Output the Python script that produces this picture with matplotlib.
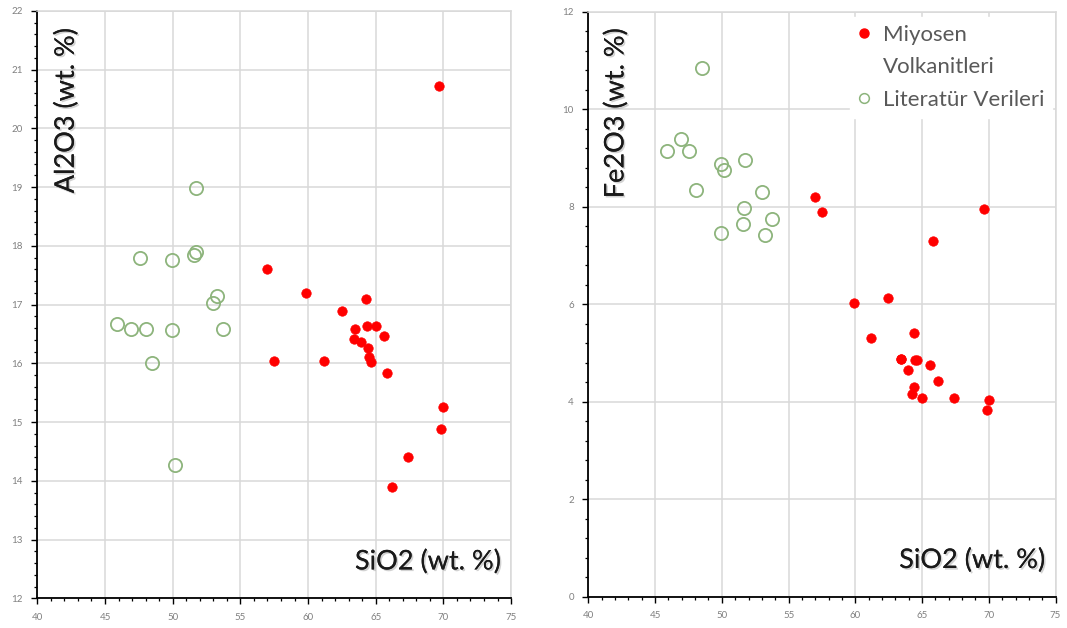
import matplotlib.pyplot as plt
import matplotlib.patheffects as pe
from matplotlib.ticker import MultipleLocator
from matplotlib.lines import Line2D

# Miyosen volkanitleri (bu çalışma)
sio2_miyosen = [57.00, 57.47, 59.88, 61.18, 62.48, 63.39, 63.44, 63.93, 64.28, 64.37, 64.40,
                64.47, 64.64, 65.01, 65.58, 65.80, 66.17, 67.37, 69.65, 69.85, 70.00]
al2o3_miyosen = [17.60, 16.04, 17.19, 16.04, 16.89, 16.42, 16.58, 16.36, 17.10, 16.64, 16.27,
                 16.11, 16.03, 16.64, 16.47, 15.84, 13.89, 14.41, 20.73, 14.88, 15.26]
fe2o3_miyosen = [8.19, 7.89, 6.03, 5.31, 6.13, 4.88, 4.88, 4.66, 4.16, 5.40, 4.30,
                 4.86, 4.85, 4.07, 4.75, 7.30, 4.43, 4.07, 7.96, 3.84, 4.04]

# Literatür verileri
sio2_lit = [45.88, 46.94, 47.55, 48.04, 48.48, 49.92, 49.93, 50.15, 51.59, 51.69, 51.72,
            53.01, 53.24, 53.73]
al2o3_lit = [16.67, 16.59, 17.79, 16.59, 16.01, 17.76, 16.56, 14.27, 17.85, 18.98, 17.89,
             17.03, 17.15, 16.59]
fe2o3_lit = [9.15, 9.38, 9.15, 8.34, 10.85, 8.88, 7.47, 8.75, 7.65, 7.98, 8.95,
             8.31, 7.41, 7.74]

RED = '#ff0000'
GREEN = '#8db47c'
GRID = '#d9d9d9'
TICK = '#808080'
FONT = 'Lato'
LABEL_SIZE = 19.5

fig = plt.figure(figsize=(10.67, 6.28), dpi=100)
ax1 = fig.add_axes([0.035, 0.0473, 0.444, 0.9352])
ax2 = fig.add_axes([0.5514, 0.0498, 0.4379, 0.9316])

shadow = [pe.withSimplePatchShadow(offset=(1.2, -1.2), shadow_rgbFace='#808080', alpha=0.35),
          pe.Normal()]


def style_axes(ax, ymin, ymax, ymajor, yminor):
    ax.set_xlim(40, 75)
    ax.set_ylim(ymin, ymax)
    ax.xaxis.set_major_locator(MultipleLocator(5))
    ax.xaxis.set_minor_locator(MultipleLocator(1))
    ax.yaxis.set_major_locator(MultipleLocator(ymajor))
    ax.yaxis.set_minor_locator(MultipleLocator(yminor))
    ax.grid(True, which='major', color=GRID, linewidth=1.1)
    ax.set_axisbelow(True)
    for side in ['top', 'right']:
        ax.spines[side].set_color(GRID)
        ax.spines[side].set_linewidth(1.1)
    for side in ['left', 'bottom']:
        ax.spines[side].set_color('black')
        ax.spines[side].set_linewidth(1.3)
    ax.tick_params(which='major', direction='out', length=4.5, width=1.0,
                   color='black', labelcolor=TICK, labelsize=7, pad=6)
    ax.tick_params(which='minor', direction='out', length=2.2, width=0.9, color='black')
    for lab in ax.get_xticklabels() + ax.get_yticklabels():
        lab.set_fontfamily(FONT)


def draw(ax, y_m, y_l):
    ax.plot(sio2_lit, y_l, linestyle='none', marker='o', markersize=9.5,
            markerfacecolor='none', markeredgecolor=GREEN, markeredgewidth=1.3, zorder=3)
    ax.plot(sio2_miyosen, y_m, linestyle='none', marker='o', markersize=6.8,
            markerfacecolor=RED, markeredgecolor=RED, markeredgewidth=0.5, zorder=4)


def axis_title(ax, x, y, text, rotation=0):
    ax.text(x, y, text, transform=ax.transAxes, rotation=rotation,
            ha='center', va='center', fontsize=LABEL_SIZE, family=FONT,
            color='#1a1a1a', path_effects=shadow)


style_axes(ax1, 12, 22, 1, 0.2)
draw(ax1, al2o3_miyosen, al2o3_lit)
axis_title(ax1, 0.061, 0.831, 'Al2O3 (wt. %)', rotation=90)
axis_title(ax1, 0.825, 0.062, 'SiO2 (wt. %)')

style_axes(ax2, 0, 12, 2, 0.4)
draw(ax2, fe2o3_miyosen, fe2o3_lit)
axis_title(ax2, 0.059, 0.827, 'Fe2O3 (wt. %)', rotation=90)
axis_title(ax2, 0.822, 0.062, 'SiO2 (wt. %)')

handles = [
    Line2D([], [], linestyle='none', marker='o', markersize=6.5, color=RED),
    Line2D([], [], linestyle='none', marker=None),
    Line2D([], [], linestyle='none', marker='o', markersize=7,
           markerfacecolor='none', markeredgecolor=GREEN, markeredgewidth=1.1),
]
labels = ['Miyosen', 'Volkanitleri', 'Literatür Verileri']
leg = ax2.legend(handles, labels, loc='upper right', bbox_to_anchor=(0.998, 0.995),
                 frameon=True, fancybox=False, framealpha=1, edgecolor='white',
                 facecolor='white', prop={'family': FONT, 'size': 16},
                 labelcolor='#595959', handlelength=0.6, handletextpad=0.55,
                 labelspacing=0.57, borderpad=0.35, borderaxespad=0.1)
leg.set_zorder(5)

fig.savefig('out.png', dpi=100)
